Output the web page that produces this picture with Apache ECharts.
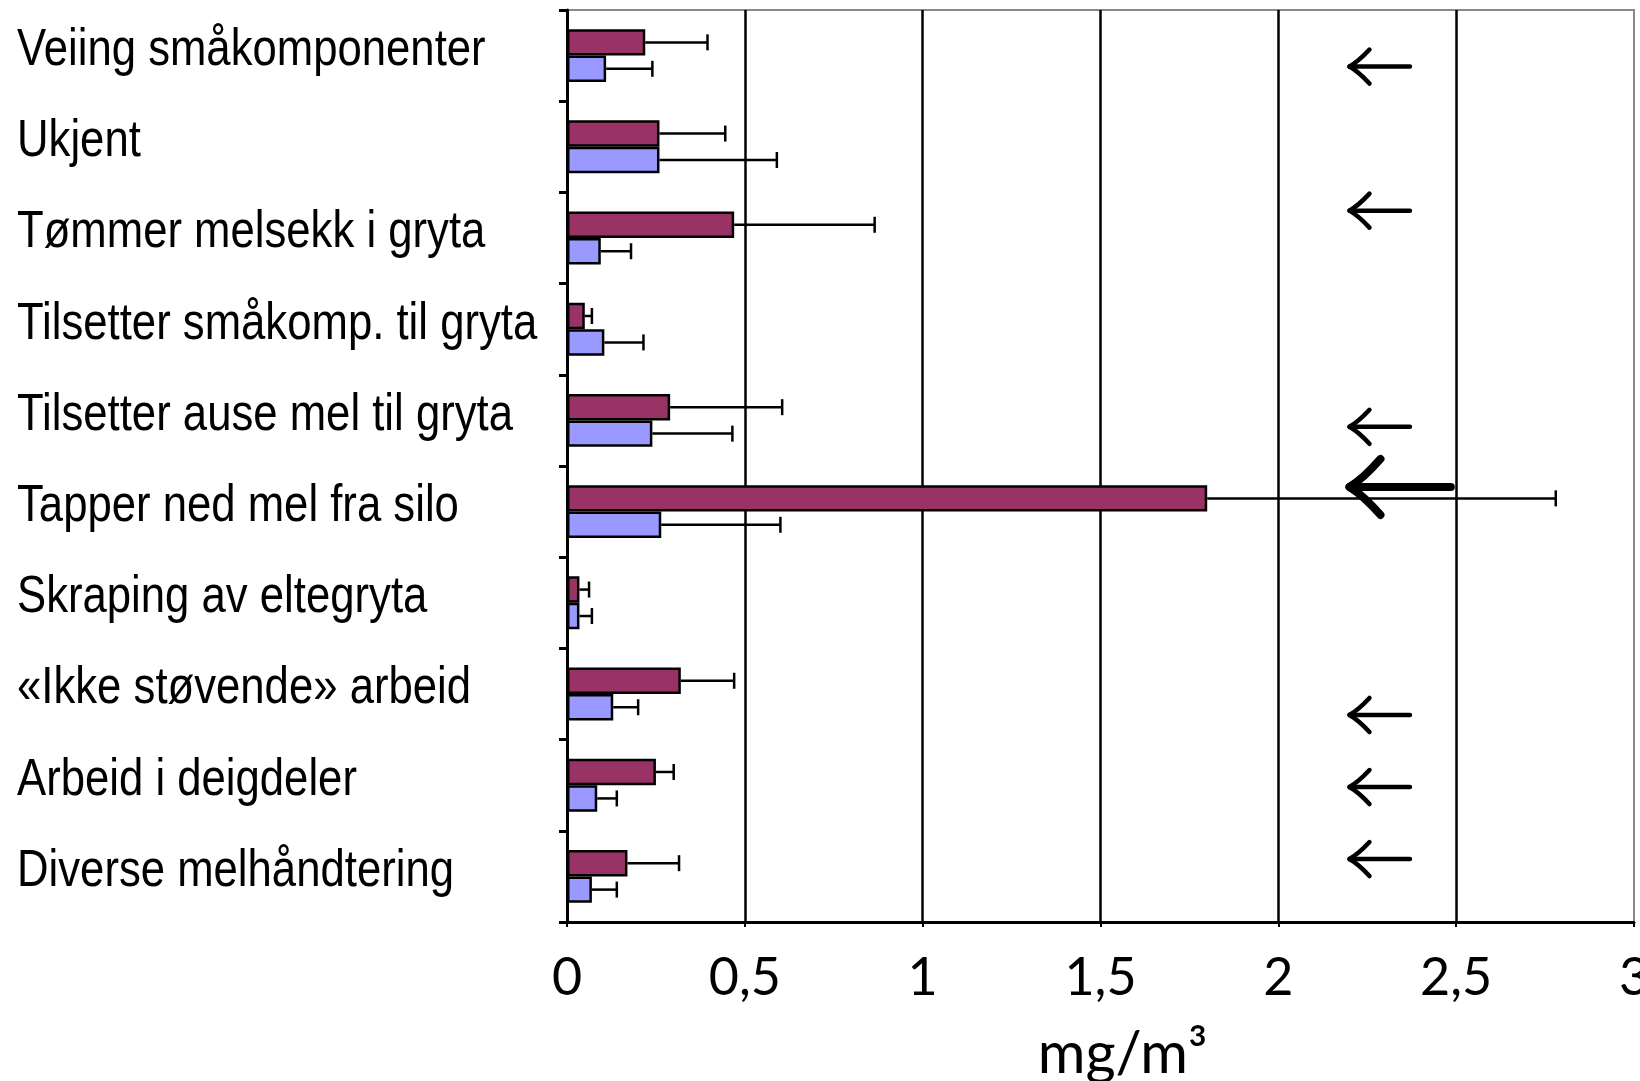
<!DOCTYPE html>
<html>
<head>
<meta charset="utf-8">
<script src="https://cdn.jsdelivr.net/npm/echarts@6/dist/echarts.min.js"></script>
<style>
  html, body { margin: 0; padding: 0; background: #ffffff; }
  #chart { width: 1640px; height: 1081px; }
</style>
</head>
<body>
<div id="chart"></div>
<script>
// Work tasks (top to bottom)
const categories = [
  'Veiing småkomponenter',
  'Ukjent',
  'Tømmer melsekk i gryta',
  'Tilsetter småkomp. til gryta',
  'Tilsetter ause mel til gryta',
  'Tapper ned mel fra silo',
  'Skraping av eltegryta',
  '«Ikke støvende» arbeid',
  'Arbeid i deigdeler',
  'Diverse melhåndtering'
];

// Mean dust level (mg/m³) and spread, first series
const redValues = [0.22, 0.26, 0.47, 0.05, 0.29, 1.80, 0.035, 0.32, 0.25, 0.17];
const redErrors = [0.175, 0.185, 0.395, 0.02, 0.315, 0.98, 0.027, 0.15, 0.05, 0.145];

// Mean dust level (mg/m³) and spread, second series
const blueValues = [0.11, 0.26, 0.095, 0.105, 0.24, 0.265, 0.035, 0.13, 0.085, 0.07];
const blueErrors = [0.13, 0.33, 0.085, 0.11, 0.225, 0.335, 0.035, 0.07, 0.055, 0.07];

// x-axis ticks
const xTicks = [0, 0.5, 1, 1.5, 2, 2.5, 3];

// Rows flagged with an arrow; the emphasised one is drawn bold
const arrowRows = [0, 2, 4, 5, 7, 8, 9];
const boldArrowRows = [5];

const CAT_GAP = 0.42; // barCategoryGap fraction
const LABEL_FONT = '"Liberation Sans", Arimo, Arial, sans-serif';

const chart = echarts.init(document.getElementById('chart'), null, { renderer: 'canvas' });

function errorRenderer(side) {
  return function (params, api) {
    const cat = api.value(0);
    const v = api.value(1);
    const e = api.value(2);
    const p0 = api.coord([v, cat]);
    const p1 = api.coord([v + e, cat]);
    const band = api.size([0, 1])[1];
    const bw = band * (1 - CAT_GAP) / 2;
    const y = p0[1] + side * bw / 2;
    const cap = 8;
    return {
      type: 'group',
      children: [
        { type: 'line', shape: { x1: p0[0], y1: y, x2: p1[0], y2: y }, style: { stroke: '#000', lineWidth: 2.5 } },
        { type: 'line', shape: { x1: p1[0], y1: y - cap, x2: p1[0], y2: y + cap }, style: { stroke: '#000', lineWidth: 2.5 } }
      ]
    };
  };
}

// Category names, set in a condensed cut of the label font
function labelRenderer(params, api) {
  const i = api.value(0);
  const p = api.coord([0, i]);
  return {
    type: 'text',
    x: p[0] - 550,
    y: p[1] - 5,
    scaleX: 0.84,
    style: {
      x: 0, y: 0,
      text: categories[i],
      fontFamily: LABEL_FONT,
      fontSize: 52,
      fill: '#000',
      align: 'left',
      verticalAlign: 'middle'
    }
  };
}

// vertical placement of each arrow inside its row (fraction of the row height)
const arrowShift = { 0: 0.12, 2: -0.30, 4: 0.07, 5: -0.27, 7: 0.23, 8: 0.02, 9: -0.19 };

function arrowRenderer(params, api) {
  const cat = api.value(0);
  const bold = api.value(3) === 1;
  const band = api.size([0, 1])[1];
  const tip = api.coord([api.value(1), cat]);
  const tail = api.coord([api.value(2), cat]);
  const y = tip[1] + (arrowShift[cat] || 0) * band;
  const lw = bold ? 8 : 4.5;
  const hx = bold ? 31 : 20;
  const hy = bold ? 28 : 17;
  const style = { stroke: '#000', lineWidth: lw, lineCap: 'round', fill: null };
  return {
    type: 'group',
    children: [
      { type: 'line', shape: { x1: tip[0] + 2, y1: y, x2: tail[0], y2: y }, style: { stroke: '#000', lineWidth: lw, lineCap: 'round' } },
      { type: 'bezierCurve', shape: { x1: tip[0], y1: y, cpx1: tip[0] + hx * 0.45, cpy1: y - hy * 0.3, x2: tip[0] + hx, y2: y - hy }, style: style },
      { type: 'bezierCurve', shape: { x1: tip[0], y1: y, cpx1: tip[0] + hx * 0.45, cpy1: y + hy * 0.3, x2: tip[0] + hx, y2: y + hy }, style: style }
    ]
  };
}

const option = {
  backgroundColor: '#ffffff',
  animation: false,
  grid: {
    left: 567, right: 6, top: 10, bottom: 159,
    outerBoundsMode: 'none',
    containLabel: false,
    show: true, borderColor: '#8a8a8a', borderWidth: 2, backgroundColor: 'transparent'
  },
  xAxis: {
    type: 'value',
    min: xTicks[0],
    max: xTicks[xTicks.length - 1],
    interval: xTicks[1] - xTicks[0],
    name: 'mg/m³',
    nameLocation: 'middle',
    nameGap: 103,
    nameTextStyle: { fontFamily: 'Lato, "Open Sans", sans-serif', fontSize: 58, color: '#000', padding: [0, 0, 0, 44] },
    axisLine: { show: true, lineStyle: { color: '#000', width: 3 } },
    axisTick: { show: true, length: 5, lineStyle: { color: '#000', width: 2 } },
    axisLabel: {
      margin: 30,
      fontFamily: 'Lato, "Open Sans", sans-serif',
      fontSize: 52,
      color: '#000',
      formatter: function (v) { return String(v).replace('.', ','); }
    },
    splitLine: { show: true, showMaxLine: false, lineStyle: { color: '#000', width: 2.5 } }
  },
  yAxis: {
    type: 'category',
    data: categories,
    inverse: true,
    axisLine: { show: true, lineStyle: { color: '#000', width: 3 } },
    axisTick: { show: true, length: 8, lineStyle: { color: '#000', width: 3 } },
    axisLabel: { show: false },
    splitLine: { show: false }
  },
  series: [
    {
      type: 'bar',
      data: redValues,
      barGap: '0%',
      barCategoryGap: (CAT_GAP * 100) + '%',
      itemStyle: { color: '#993366', borderColor: '#000', borderWidth: 2.5 },
      z: 3
    },
    {
      type: 'bar',
      data: blueValues,
      barGap: '0%',
      barCategoryGap: (CAT_GAP * 100) + '%',
      itemStyle: { color: '#9999ff', borderColor: '#000', borderWidth: 2.5 },
      z: 3
    },
    {
      type: 'custom',
      renderItem: errorRenderer(-1),
      encode: { x: 1, y: 0 },
      data: redValues.map((v, i) => [i, v, redErrors[i]]),
      z: 4
    },
    {
      type: 'custom',
      renderItem: errorRenderer(1),
      encode: { x: 1, y: 0 },
      data: blueValues.map((v, i) => [i, v, blueErrors[i]]),
      z: 4
    },
    {
      type: 'custom',
      renderItem: labelRenderer,
      encode: { y: 0 },
      clip: false,
      silent: true,
      data: categories.map((c, i) => [i]),
      z: 5
    },
    {
      type: 'custom',
      renderItem: arrowRenderer,
      encode: { x: [1, 2], y: 0 },
      data: arrowRows.map(r => {
        const bold = boldArrowRows.includes(r);
        return [r, 2.2, bold ? 2.485 : 2.37, bold ? 1 : 0];
      }),
      z: 5
    }
  ]
};

chart.setOption(option);
</script>
</body>
</html>
